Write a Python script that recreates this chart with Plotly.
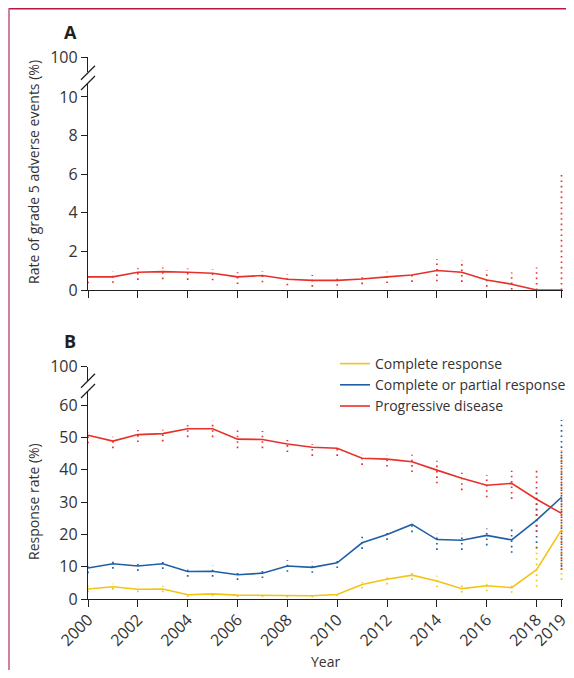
import plotly.graph_objects as go

years = list(range(2000, 2020))

# Panel A: grade 5 adverse events (%)
ae_rate = [0.68, 0.68, 0.92, 0.95, 0.92, 0.87, 0.68, 0.75, 0.56, 0.50,
           0.50, 0.57, 0.68, 0.78, 1.01, 0.92, 0.52, 0.30, 0.0, 0.0]
ae_lo = [0.35, 0.37, 0.52, 0.56, 0.52, 0.50, 0.31, 0.40, 0.24, 0.17,
         0.22, 0.30, 0.36, 0.42, 0.45, 0.42, 0.17, 0.02, 0.0, 0.0]
ae_hi = [0.90, 0.95, 1.13, 1.17, 1.11, 1.09, 0.92, 0.99, 0.83, 0.78,
         0.78, 0.85, 0.95, 0.99, 1.60, 1.56, 1.04, 0.90, 1.16, 6.0]

# Panel B: response rates (%)
cr = [3.1, 3.8, 3.0, 3.1, 1.3, 1.6, 1.2, 1.2, 1.0, 1.0,
      1.4, 4.5, 6.1, 7.4, 5.6, 3.2, 4.1, 3.5, 9.1, 21.4]
cr_lo = [2.1, 2.9, 2.1, 2.1, 0.6, 0.9, 0.6, 0.6, 0.5, 0.5,
         0.9, 3.3, 4.5, 5.9, 3.6, 2.0, 2.4, 1.9, 3.8, 5.9]
cr_hi = [4.1, 4.7, 3.9, 4.1, 2.0, 2.3, 1.8, 1.8, 1.5, 1.5,
         1.9, 5.2, 7.0, 8.9, 7.2, 4.4, 5.8, 5.2, 16.2, 45.5]

cpr = [9.6, 10.9, 10.2, 10.9, 8.5, 8.6, 7.5, 8.0, 10.2, 9.8,
       11.2, 17.4, 20.0, 23.1, 18.4, 18.2, 19.7, 18.3, 24.4, 31.5]
cpr_lo = [8.0, 9.4, 8.7, 9.3, 6.9, 6.9, 5.9, 6.5, 8.4, 8.1,
          9.6, 15.5, 18.3, 20.7, 15.2, 15.2, 16.6, 14.3, 15.7, 10.0]
cpr_hi = [11.2, 12.4, 11.7, 12.5, 10.1, 10.3, 9.1, 9.5, 12.0, 11.5,
          12.8, 19.3, 21.6, 24.1, 20.3, 20.3, 21.8, 21.6, 33.2, 55.4]

pd_ = [50.7, 48.9, 50.9, 51.2, 52.7, 52.7, 49.5, 49.4, 48.0, 47.0,
       46.7, 43.6, 43.3, 42.5, 39.9, 37.4, 35.2, 35.8, 30.9, 26.5]
pd_lo = [48.2, 46.7, 48.6, 48.8, 50.1, 50.1, 46.7, 46.7, 45.5, 44.3,
         44.3, 41.5, 41.0, 39.3, 35.8, 33.7, 31.5, 31.0, 20.8, 9.0]
pd_hi = [51.6, 50.2, 52.3, 52.4, 53.8, 55.2, 52.2, 52.0, 49.2, 47.9,
         47.7, 44.9, 44.4, 44.7, 42.8, 39.1, 38.4, 39.7, 40.5, 46.0]

x_ticks = [2000, 2002, 2004, 2006, 2008, 2010, 2012, 2014, 2016, 2018, 2019]
x_ticklabels = [str(v) for v in x_ticks]

RED = "#e8302a"
BLUE = "#1f5fa6"
YELLOW = "#f2c414"
AXC = "#231f20"
TXT = "#333333"
FONT = "Open Sans"

W, H = 566, 662          # page body has an 8px margin
ML, MR, MT, MB = 80, 11, 49, 71
PW, PH = W - ML - MR, H - MT - MB


def px(xp):
    return (xp - 8 - ML) / PW


def py(yp):
    return (H - MB - (yp - 8)) / PH


def ci_xy(lo, hi):
    xs, ys = [], []
    for yr, a, b in zip(years, lo, hi):
        xs += [yr, yr, None]
        ys += [a, b, None]
    return xs, ys


fig = go.Figure()

DOT = "1.6px,3.8px"
# ---- Panel A
xs, ys = ci_xy(ae_lo, ae_hi)
fig.add_trace(go.Scatter(x=xs, y=ys, mode="lines", xaxis="x", yaxis="y",
                         line=dict(color=RED, width=1.7, dash=DOT),
                         showlegend=False, hoverinfo="skip"))
fig.add_trace(go.Scatter(x=years, y=ae_rate, mode="lines", xaxis="x", yaxis="y",
                         line=dict(color=RED, width=1.6), showlegend=False))

# ---- Panel B
for lo, hi, col in [(cr_lo, cr_hi, YELLOW), (cpr_lo, cpr_hi, BLUE), (pd_lo, pd_hi, RED)]:
    xs, ys = ci_xy(lo, hi)
    fig.add_trace(go.Scatter(x=xs, y=ys, mode="lines", xaxis="x2", yaxis="y2",
                             line=dict(color=col, width=1.7, dash=DOT),
                             showlegend=False, hoverinfo="skip"))
for vals, col, name in [(cr, YELLOW, "Complete response"),
                        (cpr, BLUE, "Complete or partial response"),
                        (pd_, RED, "Progressive disease")]:
    fig.add_trace(go.Scatter(x=years, y=vals, mode="lines", xaxis="x2", yaxis="y2",
                             line=dict(color=col, width=1.6), name=name))

# dummy traces so the upper (break) axis segments exist
fig.add_trace(go.Scatter(x=[None], y=[None], xaxis="x", yaxis="y3", showlegend=False))
fig.add_trace(go.Scatter(x=[None], y=[None], xaxis="x2", yaxis="y4", showlegend=False))

axis_common = dict(showline=True, linecolor=AXC, linewidth=1.3, ticks="outside",
                   tickcolor=AXC, tickwidth=1.3, showgrid=False, zeroline=False,
                   tickfont=dict(family=FONT, size=16, color=TXT))

XR = [2000, 2019.06]
fig.update_layout(
    width=W, height=H,
    margin=dict(l=ML, r=MR, t=MT, b=MB, autoexpand=False),
    paper_bgcolor="white", plot_bgcolor="white",
    font=dict(family=FONT, size=14, color=TXT),
    xaxis=dict(domain=[0, 1], anchor="y", range=XR, tickvals=x_ticks,
               showticklabels=False, ticklen=7, layer="below traces", **axis_common),
    yaxis=dict(domain=[py(290), py(83)], anchor="x", range=[0, 10.72],
               tickvals=[0, 2, 4, 6, 8, 10], ticklen=6, **axis_common),
    yaxis3=dict(domain=[py(72), 1.0], anchor="x", range=[95, 100],
                tickvals=[100], ticklen=6, **axis_common),
    xaxis2=dict(domain=[0, 1], anchor="y2", range=XR, tickvals=x_ticks,
                ticktext=x_ticklabels, tickangle=-45, ticklen=7,
                ticklabelstandoff=-3,
                layer="below traces", **axis_common),
    yaxis2=dict(domain=[0, py(391)], anchor="x2", range=[0, 64.4],
                tickvals=[0, 10, 20, 30, 40, 50, 60], ticklen=6, **axis_common),
    yaxis4=dict(domain=[py(381), py(366.7)], anchor="x2", range=[95, 100],
                tickvals=[100], ticklen=6, **axis_common),
    legend=dict(x=px(335), y=py(348), xanchor="left", yanchor="top",
                bgcolor="rgba(0,0,0,0)", font=dict(family=FONT, size=14, color=TXT)),
    showlegend=True,
)

# axis break marks and frame
dx, dy = 7 / PW, 7 / PH
shapes = []
for yc in [72.7, 83, 380.7, 391]:
    c = py(yc)
    shapes.append(dict(type="line", xref="paper", yref="paper",
                       x0=-dx, y0=c - dy, x1=dx, y1=c + dy,
                       line=dict(color=AXC, width=1.3)))
shapes.append(dict(type="line", xref="paper", yref="paper",
                   x0=px(8.5), y0=py(8.8), x1=px(580), y1=py(8.8),
                   line=dict(color="#b5173f", width=1.6)))
shapes.append(dict(type="line", xref="paper", yref="paper",
                   x0=px(9), y0=py(8.8), x1=px(9), y1=py(700),
                   line=dict(color="#d67f9b", width=2)))
fig.update_layout(shapes=shapes)

annotations = [
    dict(text="<b>A</b>", x=px(70), y=py(32), xref="paper", yref="paper",
         xanchor="center", yanchor="middle", showarrow=False,
         font=dict(family=FONT, size=18, color="#231f20")),
    dict(text="<b>B</b>", x=px(70), y=py(341), xref="paper", yref="paper",
         xanchor="center", yanchor="middle", showarrow=False,
         font=dict(family=FONT, size=18, color="#231f20")),
    dict(text="Rate of grade 5 adverse events (%)", x=px(33), y=py(172),
         xref="paper", yref="paper", textangle=-90, showarrow=False,
         xanchor="center", yanchor="middle",
         font=dict(family=FONT, size=14, color=TXT)),
    dict(text="Response rate (%)", x=px(33), y=py(502),
         xref="paper", yref="paper", textangle=-90, showarrow=False,
         xanchor="center", yanchor="middle",
         font=dict(family=FONT, size=14, color=TXT)),
    dict(text="Year", x=px(325), y=py(661), xref="paper", yref="paper",
         xanchor="center", yanchor="middle", showarrow=False,
         font=dict(family=FONT, size=14, color=TXT)),
]
fig.update_layout(annotations=annotations)

fig.write_html("out.html")
